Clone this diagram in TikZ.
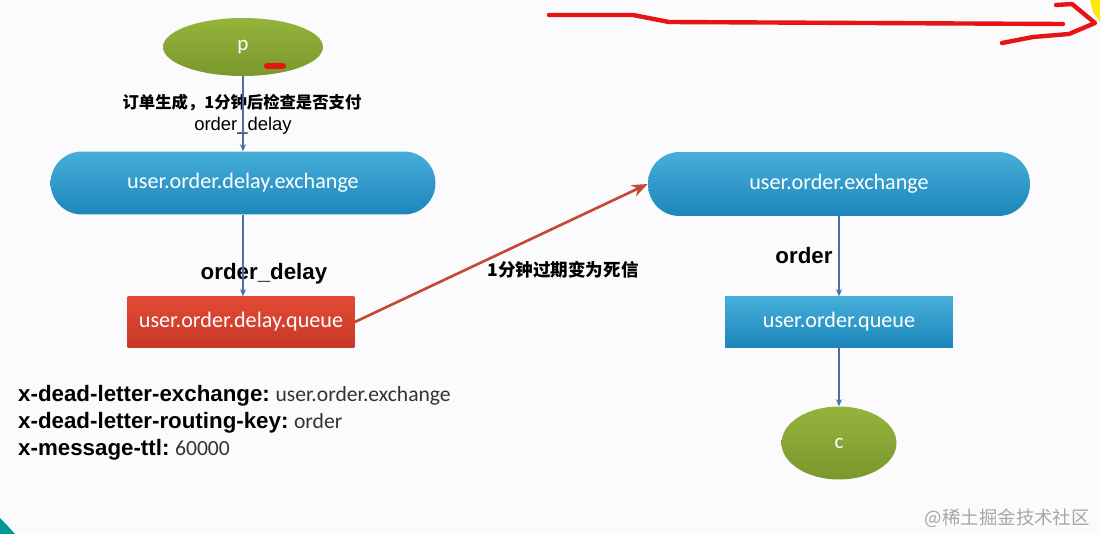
\documentclass[tikz,border=0pt]{standalone}
\usepackage{fontspec}
\setmainfont{Liberation Sans}
\newfontfamily\calib{Carlito}
\newfontfamily\cjk{Noto Sans CJK SC}
\usepackage{tikz}
\usetikzlibrary{arrows.meta, shapes.geometric, positioning}

\definecolor{pillblue}{RGB}{38,160,210}
\definecolor{pillbluedark}{RGB}{28,134,186}
\definecolor{queuered}{RGB}{226,74,52}
\definecolor{queuereddark}{RGB}{200,56,40}
\definecolor{antgreen}{RGB}{148,180,60}
\definecolor{antgreendark}{RGB}{122,152,44}
\definecolor{lineblue}{RGB}{70,112,168}
\definecolor{deadred}{RGB}{196,72,52}
\definecolor{scribred}{RGB}{230,20,20}
\definecolor{bgwhite}{RGB}{251,251,253}

\begin{document}
\begin{tikzpicture}[x=0.02cm, y=-0.02cm, >=Stealth,
    pill/.style={rounded corners=0.63cm, minimum width=7.7cm, minimum height=1.26cm,
        top color=pillblue!85!white, bottom color=pillbluedark, draw=none,
        text=white, font=\calib\fontsize{12.6}{14}\selectfont},
    queuebox/.style={rectangle, minimum width=4.56cm, minimum height=1.02cm,
        top color=pillblue!85!white, bottom color=pillbluedark, draw=none,
        text=white, font=\calib\fontsize{12.6}{14}\selectfont},
    client/.style={ellipse, inner sep=0pt, top color=antgreen, bottom color=antgreendark,
        draw=none, text=white, font=\calib\fontsize{12}{14}\selectfont},
    flow/.style={->, draw=lineblue, line width=0.6pt, >={Stealth[length=4pt, width=3.5pt]}},
    keylabel/.style={font=\bfseries\fontsize{12.7}{15}\selectfont},
    cnlabel/.style={font=\cjk\bfseries\fontsize{9.3}{12}\selectfont}]
    % page
    \fill[bgwhite] (0,0) rectangle (1100,534);
    \useasboundingbox (0,0) rectangle (1100,534);

    % nodes
    \node[client, minimum width=3.2cm, minimum height=1.16cm] (p) at (243,47) {p};
    \node[pill] (delayex) at (243,183) {user.order.delay.exchange};
    \node[queuebox, minimum width=4.54cm, top color=queuered, bottom color=queuereddark]
        (delayq) at (241,322) {user.order.delay.queue};
    \node[pill, minimum width=7.64cm, minimum height=1.28cm] (orderex) at (839,184) {user.order.exchange};
    \node[queuebox] (orderq) at (839,322) {user.order.queue};
    \node[client, minimum width=2.3cm, minimum height=1.46cm] (c) at (839,443) {c};

    % labels
    \node[cnlabel] (created) at (242,103) {订单生成，1分钟后检查是否支付};
    \node[font=\fontsize{10.5}{12}\selectfont] (key1) at (243,126) {order\_delay};
    \node[keylabel] (key2) at (264,274) {order\_delay};
    \node[keylabel] (key3) at (804,256) {order};
    \node[cnlabel, font=\cjk\bfseries\fontsize{10}{12}\selectfont] (expired) at (563,270) {1分钟过期变为死信};

    % connectors
    \draw[flow] (p) -- (delayex);
    \draw[flow] (delayex.south) -- (delayex.south |- delayq.north);
    \draw[->, deadred, line width=1.5pt, >={Stealth[length=9pt, width=7pt]}] (delayq.east) -- (orderex.west);
    \draw[flow] (orderex) -- (orderq);
    \draw[flow] (orderq) -- (c);

    % queue arguments
    \node[anchor=west, keylabel] (arg1) at (12,396)
        {x-dead-letter-exchange:\hspace{-1.5pt} {\calib\mdseries\color{black!80}\fontsize{12.3}{14}\selectfont user.order.exchange}};
    \node[anchor=west, keylabel] (arg2) at (12,423)
        {x-dead-letter-routing-key:\hspace{-1.5pt} {\calib\mdseries\color{black!80}\fontsize{12.3}{14}\selectfont order}};
    \node[anchor=west, keylabel] (arg3) at (12,450)
        {x-message-ttl:\hspace{-1.5pt} {\calib\mdseries\color{black!80}\fontsize{12.3}{14}\selectfont 60000}};

    % screen marks
    \draw[scribred, line width=3.4pt, line cap=round] (267,66) -- (283,66);
    \draw[scribred, line width=2.5pt, line cap=round, line join=round]
        (549,15) -- (633,15) -- (669,22) -- (1063,24);
    \draw[scribred, line width=2.5pt, line cap=round, line join=round]
        (1056,5) -- (1072,4) -- (1095,23) -- (1069,34) -- (1033,37) -- (1002,43);
    \fill[yellow!90!orange] (1090,0) -- (1100,0) -- (1100,22) -- (1093,12) -- cycle;
    \fill[teal!80!cyan] (0,518) .. controls (6,524) .. (15,534) -- (0,534) -- cycle;
    \node[anchor=east, text=black!35, font=\cjk\fontsize{10.5}{12}\selectfont] (mark) at (1096,518) {@稀土掘金技术社区};
\end{tikzpicture}
\end{document}
